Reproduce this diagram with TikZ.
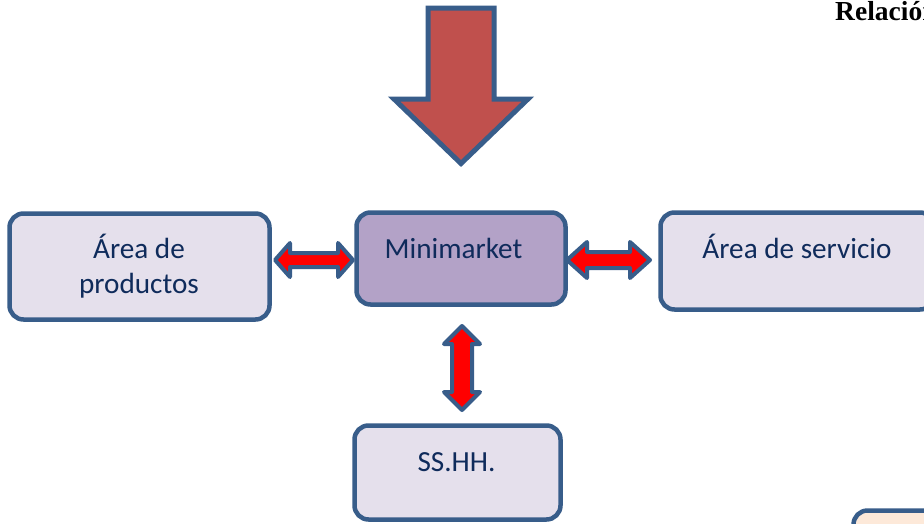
\documentclass[tikz,border=0pt]{standalone}
\usepackage{fontspec}
\setmainfont{Carlito}
\newfontfamily\timesfont{Liberation Serif}
\usetikzlibrary{calc}
\definecolor{bord}{HTML}{385D8A}
\definecolor{lightfill}{HTML}{E5E0EC}
\definecolor{minifill}{HTML}{B3A2C7}
\definecolor{bigred}{HTML}{C0504D}
\definecolor{txt}{HTML}{0F2B5B}
\definecolor{peach}{HTML}{FDE9D9}
\tikzset{
  pics/dblarrow/.style args={#1/#2/#3/#4}{code={
    \draw[dbl] (-#1,0) -- (-#1+#2,-#3) -- (-#1+#2,-#4) -- (#1-#2,-#4) -- (#1-#2,-#3)
      -- (#1,0) -- (#1-#2,#3) -- (#1-#2,#4) -- (-#1+#2,#4) -- (-#1+#2,#3) -- cycle;
  }}
}
\begin{document}
\begin{tikzpicture}[x=1pt,y=-1pt,
  box/.style={draw=bord, line width=4.5pt, rounded corners=14pt, fill=lightfill, inner sep=0pt},
  lbl/.style={text=txt, font=\fontsize{29.2}{35}\selectfont, inner sep=0pt, anchor=base},
  dbl/.style={draw=bord, line width=4pt, fill=red, line join=round}]
\useasboundingbox (0,0) rectangle (924,523);
\clip (0,0) rectangle (924,523);
\fill[white] (0,0) rectangle (924,523);

% big down arrow
\draw[draw=bord, line width=5pt, fill=bigred, line join=miter]
  (428,8) -- (494,8) -- (494,99) -- (528,99) -- (461,163.5) -- (394,99) -- (428,99) -- cycle;

% boxes
\node[box, minimum width=260pt, minimum height=106pt] (prod) at (139.5,266.5) {};
\node[box, fill=minifill, minimum width=209pt, minimum height=92pt] (mini) at (461,258.5) {};
\node[box, minimum width=273.5pt, minimum height=97pt] (serv) at (797.25,261) {};
\node[box, minimum width=206pt, minimum height=94pt] (ss) at (457.5,472.5) {};
\node[box, fill=peach, minimum width=150pt, minimum height=80pt] (extra) at (928.5,550.5) {};

% labels
\node[lbl] (prodA) at (139,258) {Área de};
\node[lbl] (prodB) at (139,293) {productos};
\node[lbl] (miniL) at (453.5,258) {Minimarket};
\node[lbl] (servL) at (797,258) {Área de servicio};
\node[lbl] (ssL) at (456.5,471) {SS.HH.};

% title fragment (cut off at the right edge, as in the source)
\node[anchor=base west, inner sep=0pt, font=\timesfont\bfseries\fontsize{27.5}{30}\selectfont] (title) at (835,20) {Relación};

% double arrows
\coordinate (aL) at (314,260);
\coordinate (aR) at (608.5,260);
\coordinate (aV) at (462,368);
\pic at (aL) {dblarrow=39/15/17/7};
\pic at (aR) {dblarrow=41.5/20/18/8};
\pic[rotate=90] at (aV) {dblarrow=42/18/18/10};
\end{tikzpicture}
\end{document}
